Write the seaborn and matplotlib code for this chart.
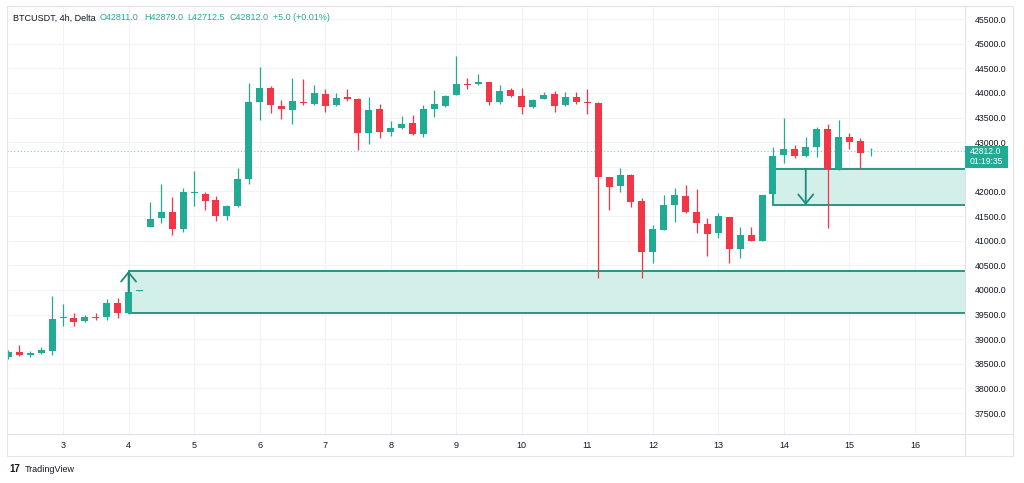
import numpy as np
import pandas as pd
import matplotlib
matplotlib.use('Agg')
import matplotlib.pyplot as plt
import seaborn as sns
from matplotlib.patches import Rectangle
from matplotlib.lines import Line2D

# 4h candles, t = 0 is day 3 00:00 (6 candles per day)
candle_t = list(range(-5, 75))
opens = [38640, 38740, 38680, 38720, 38760, 39430, 39430, 39370, 39460, 39450,
         39735, 39530, 39985, 41280, 41460, 41580, 41240, 41970, 41950, 41830,
         41500, 41700, 42250, 43820, 44100, 43730, 43650, 43810, 43770, 43980,
         43750, 43920, 43880, 43190, 43670, 43210, 43290, 43390, 43170, 43670,
         43730, 43960, 44180, 44180, 44220, 43820, 44060, 43940, 43710, 43880,
         43980, 43750, 43920, 43820, 43800, 42290, 42110, 42330, 41800, 40770,
         41220, 41720, 41910, 41580, 41340, 41160, 41480, 40830, 41120, 40990,
         41950, 42740, 42860, 42720, 42900, 43270, 42450, 43100, 43020, 42811]
highs = [38780, 38880, 38760, 38840, 39880, 39710, 39530, 39500, 39530, 39820,
         39840, 39960, 39990, 41790, 42150, 41890, 42070, 42410, 41990, 41910,
         41720, 42480, 44200, 44530, 44140, 43860, 44300, 44280, 44160, 44080,
         44000, 44080, 43890, 43920, 43770, 43430, 43530, 43550, 43750, 44060,
         43950, 44750, 44300, 44380, 44230, 44160, 44100, 44100, 43870, 44020,
         44040, 44020, 44020, 44080, 43810, 42300, 42480, 42350, 41870, 41320,
         41930, 42070, 42130, 42050, 41460, 41560, 41490, 41280, 41280, 41930,
         42900, 43490, 42940, 43100, 43310, 43370, 43450, 43190, 43080, 42879]
lows = [38600, 38650, 38640, 38700, 38680, 39270, 39270, 39340, 39390, 39390,
        39430, 39510, 39980, 41270, 41360, 41120, 41180, 41700, 41620, 41400,
        41420, 41690, 42150, 43450, 43590, 43470, 43370, 43750, 43760, 43610,
        43740, 43830, 42840, 42960, 43080, 43120, 43260, 43150, 43100, 43510,
        43720, 43950, 44080, 44160, 43750, 43770, 43920, 43570, 43700, 43870,
        43610, 43740, 43770, 43570, 40240, 41620, 41990, 41680, 40240, 40550,
        41210, 41380, 41570, 41160, 40690, 41050, 40550, 40650, 40990, 40990,
        41720, 42580, 42680, 42700, 42700, 41260, 42440, 42860, 42470, 42712.5]
closes = [38740, 38680, 38720, 38780, 39410, 39460, 39350, 39450, 39440, 39735,
          39530, 39960, 39985, 41440, 41580, 41240, 41990, 41990, 41800, 41500,
          41700, 42250, 43820, 44100, 43750, 43670, 43840, 43790, 44000, 43730,
          43900, 43870, 43190, 43650, 43210, 43290, 43370, 43170, 43670, 43770,
          43940, 44180, 44160, 44220, 43820, 44040, 43940, 43710, 43860, 43960,
          43730, 43920, 43820, 43800, 42290, 42090, 42330, 41790, 40770, 41240,
          41720, 41930, 41580, 41360, 41140, 41500, 40830, 41120, 40990, 41930,
          42720, 42860, 42720, 42900, 43270, 42450, 43100, 43000, 42780, 42812]

days = list(range(3, 17))
price_ticks = list(range(37500, 45501, 500))

# zones drawn on the chart
zone_start = [6, 65]
zone_low = [39530, 41724]
zone_high = [40385, 42455]
arrow_t = [6, 68]
arrow_from = [39960, 42455]
arrow_to = [40385, 41724]

last_price = 42812.0
countdown = '01:19:35'

GREEN = '#22ab94'
RED = '#f23645'
ZONE = '#1e8c7a'
FRAME = '#e0e3eb'
TEXT = '#131722'

W, H = 1024, 483
def fx(px):
    return px / W
def fy(py):
    return 1 - py / H

sns.set_theme(style='white')
plt.rcParams['font.family'] = ['Liberation Sans', 'DejaVu Sans']

df = pd.DataFrame({'t': candle_t, 'open': opens, 'high': highs,
                   'low': lows, 'close': closes})
df['up'] = df['close'] >= df['open']
df['color'] = np.where(df['up'], GREEN, RED)
df['bottom'] = df[['open', 'close']].min(axis=1)
df['height'] = (df['close'] - df['open']).abs().clip(lower=15)

fig = plt.figure(figsize=(W / 100, H / 100), dpi=100)
ax = fig.add_axes([fx(7), fy(434), fx(965) - fx(7), fy(6) - fy(434)])

# grid
for d in days:
    ax.axvline((d - 3) * 6, color='#f2f3f6', lw=0.8, zorder=0)
for p in price_ticks:
    ax.axhline(p, color='#f2f3f6', lw=0.8, zorder=0)

# zones
for s, lo, hi in zip(zone_start, zone_low, zone_high):
    ax.add_patch(Rectangle((s, lo), 100, hi - lo, facecolor='#d3efe9',
                           edgecolor=ZONE, lw=1.3, zorder=1))

# current price line
ax.axhline(last_price, color=GREEN, lw=0.8, ls=(0, (1, 2)), alpha=0.6, zorder=1)

# candles
ax.vlines(df['t'], df['low'], df['high'], colors=df['color'], lw=0.9, zorder=2)
ax.bar(df['t'], df['height'], bottom=df['bottom'], width=0.64,
       color=df['color'], lw=0, zorder=3)

# arrows
for t, a, b in zip(arrow_t, arrow_from, arrow_to):
    ax.annotate('', xy=(t, b), xytext=(t, a),
                arrowprops=dict(arrowstyle='->,head_length=0.55,head_width=0.45',
                                color=ZONE, lw=1.3, shrinkA=0, shrinkB=0),
                zorder=4)

ax.set_xlim(-5.13, 82.58)
ax.set_ylim(37076, 45764)
ax.set_xticks([(d - 3) * 6 for d in days])
ax.set_xticklabels([str(d) for d in days])
ax.yaxis.tick_right()
ax.set_yticks(price_ticks)
# the 42500 label sits under the last-price box
ax.set_yticklabels(['' if p == 42500 else f'{p:.1f}' for p in price_ticks])
ax.tick_params(axis='x', length=0, pad=5, labelsize=6.5, labelcolor=TEXT)
ax.tick_params(axis='y', length=0, pad=7, labelsize=6.3, labelcolor=TEXT)
for sp in ax.spines.values():
    sp.set_visible(False)

# frame around chart, time scale and price scale
for xs, ys in [([7, 1013], [6, 6]), ([7, 1013], [434, 434]), ([7, 1013], [456, 456]),
               ([7, 7], [6, 456]), ([965, 965], [6, 456]), ([1013, 1013], [6, 456])]:
    fig.add_artist(Line2D([fx(x) for x in xs], [fy(y) for y in ys],
                          color=FRAME, lw=0.8))

# last price label
fig.add_artist(Rectangle((fx(965), fy(168)), fx(1008) - fx(965), fy(146) - fy(168),
                         facecolor=GREEN, edgecolor='none', zorder=5))
fig.text(fx(986), fy(152), f'{last_price:.1f}', color='white', fontsize=6.2,
         ha='center', va='center', zorder=6)
fig.text(fx(986), fy(162), countdown, color='white', fontsize=6.2,
         ha='center', va='center', zorder=6)

# header
fig.text(fx(13), fy(18), 'BTCUSDT, 4h, Delta', color=TEXT, fontsize=6.5, va='center')
header = [(100, 'O42811.0'), (144, 'H42879.0'), (187, 'L42712.5'),
          (230, 'C42812.0'), (273, '+5.0 (+0.01%)')]
for x, s in header:
    fig.text(fx(x), fy(18), s, color=GREEN, fontsize=6.5, va='center')

# footer
fig.text(fx(9), fy(469), '17', color=TEXT, fontsize=7, weight='bold', va='center')
fig.text(fx(25), fy(469), 'TradingView', color=TEXT, fontsize=6.5, va='center')

fig.savefig('out.png', dpi=100)
